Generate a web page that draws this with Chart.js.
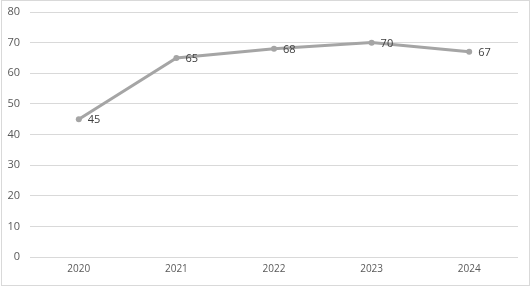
<!DOCTYPE html>
<html>
<head>
<meta charset="utf-8">
<script src="https://cdn.jsdelivr.net/npm/chart.js@4"></script>
<style>
  html, body { margin: 0; padding: 0; background: #fff; }
  #wrap { width: 531px; height: 287px; position: relative; }
</style>
</head>
<body>
<div id="wrap"><canvas id="chart"></canvas></div>
<script>
const YEARS = ["2020", "2021", "2022", "2023", "2024"];
const VALUES = [45, 65, 68, 70, 67];

// label angka di sebelah kanan titik
const labelPlugin = {
  id: "pointLabels",
  afterDatasetsDraw(chart) {
    const ctx = chart.ctx;
    const meta = chart.getDatasetMeta(0);
    ctx.save();
    ctx.font = "11px 'Open Sans'";
    ctx.fillStyle = "#404040";
    ctx.textAlign = "left";
    ctx.textBaseline = "middle";
    meta.data.forEach((pt, i) => {
      ctx.fillText(String(VALUES[i]), pt.x + 9, pt.y + 1);
    });
    ctx.restore();
  }
};

// garis tepi gambar
const framePlugin = {
  id: "frame",
  afterDraw(chart) {
    const ctx = chart.ctx;
    ctx.save();
    ctx.strokeStyle = "#d9d9d9";
    ctx.lineWidth = 1;
    ctx.strokeRect(1.5, 0.5, chart.width - 3, chart.height - 2);
    ctx.restore();
  }
};

new Chart("chart", {
  type: "line",
  data: {
    labels: YEARS,
    datasets: [{
      data: VALUES,
      borderColor: "#a5a5a5",
      backgroundColor: "#a5a5a5",
      borderWidth: 3,
      pointRadius: 3,
      pointBorderWidth: 0,
      fill: false,
      tension: 0
    }]
  },
  options: {
    responsive: true,
    maintainAspectRatio: false,
    animation: false,
    layout: { padding: { top: 12, right: 13, left: 0, bottom: 0 } },
    plugins: {
      legend: { display: false },
      tooltip: { enabled: false }
    },
    scales: {
      y: {
        min: 0,
        max: 80,
        afterFit(scale) {
          scale.width = 30;
          scale.paddingTop = 0;
          scale.paddingBottom = 0;
        },
        border: { display: false },
        grid: { color: "#d9d9d9", drawTicks: false },
        ticks: {
          stepSize: 10,
          padding: 10,
          color: "#595959",
          font: { size: 11, family: "Open Sans" }
        }
      },
      x: {
        offset: true,
        afterFit(scale) { scale.height = 30; },
        border: { display: false },
        grid: { display: false, drawTicks: false },
        ticks: {
          padding: 6,
          color: "#595959",
          font: { size: 10, family: "Open Sans" }
        }
      }
    }
  },
  plugins: [labelPlugin, framePlugin]
});
</script>
</body>
</html>
